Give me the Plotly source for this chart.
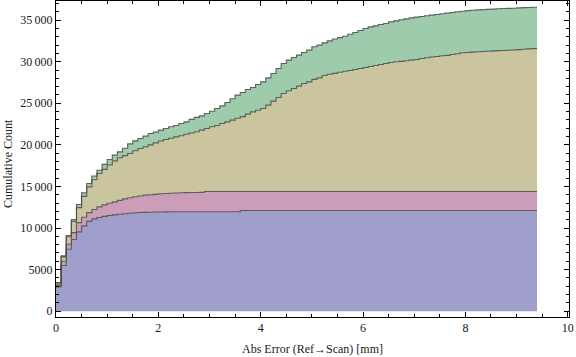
import plotly.graph_objects as go

# ---- data (cumulative stacked tops) ----
bin_width = 0.1
n_bins = 94
bin_left = [round(i * bin_width, 2) for i in range(n_bins)]

blue_top = [
    2900, 5500, 7450, 8620, 9540, 10260, 10800, 11100, 11270, 11400,
    11500, 11580, 11650, 11720, 11780, 11830, 11860, 11880, 11900, 11920,
    11930, 11940, 11950, 11950, 11950, 11950, 11950, 11950, 11950, 11950,
    11950, 11950, 11950, 11950, 11950, 11950, 12100, 12100, 12100, 12100,
    12100, 12100, 12100, 12100, 12100, 12100, 12100, 12100, 12100, 12100,
    12100, 12100, 12100, 12100, 12100, 12100, 12100, 12100, 12100, 12100,
    12100, 12100, 12100, 12100, 12100, 12100, 12100, 12100, 12100, 12100,
    12100, 12100, 12100, 12100, 12100, 12100, 12100, 12100, 12100, 12100,
    12100, 12100, 12100, 12100, 12100, 12100, 12100, 12100, 12100, 12100,
    12100, 12100, 12100, 12100,
]
pink_top = [
    3080, 6000, 8050, 9450, 10650, 11300, 11850, 12220, 12540, 12780,
    12970, 13150, 13330, 13500, 13640, 13760, 13850, 13950, 14000, 14050,
    14120, 14150, 14180, 14220, 14250, 14260, 14270, 14280, 14290, 14400,
    14400, 14400, 14400, 14400, 14400, 14400, 14400, 14400, 14400, 14400,
    14400, 14400, 14400, 14400, 14400, 14400, 14400, 14400, 14400, 14400,
    14400, 14400, 14400, 14400, 14400, 14400, 14400, 14400, 14400, 14400,
    14400, 14400, 14400, 14400, 14400, 14400, 14400, 14400, 14400, 14400,
    14400, 14400, 14400, 14400, 14400, 14400, 14400, 14400, 14400, 14400,
    14400, 14400, 14400, 14400, 14400, 14400, 14400, 14400, 14400, 14400,
    14400, 14400, 14400, 14400,
]
tan_top = [
    3280, 6530, 8950, 10800, 12450, 13800, 14950, 15800, 16550, 17050,
    17580, 18080, 18450, 18700, 18960, 19300, 19560, 19780, 20000, 20240,
    20460, 20640, 20800, 20960, 21100, 21270, 21430, 21570, 21770, 21970,
    22170, 22330, 22570, 22770, 22980, 23200, 23400, 23700, 23970, 24170,
    24380, 24780, 25260, 25700, 26180, 26500, 26780, 27060, 27380, 27580,
    27870, 28060, 28350, 28500, 28600, 28740, 28860, 28950, 29070, 29190,
    29310, 29430, 29550, 29670, 29790, 29910, 29990, 30040, 30110, 30190,
    30270, 30390, 30470, 30570, 30630, 30710, 30760, 30870, 30950, 31070,
    31110, 31150, 31200, 31230, 31260, 31300, 31330, 31350, 31370, 31400,
    31450, 31500, 31540, 31570,
]
green_top = [
    3450, 6650, 9100, 11030, 12830, 14250, 15350, 16250, 16950, 17650,
    18240, 18760, 19160, 19600, 20120, 20480, 20770, 21050, 21370, 21530,
    21770, 21970, 22170, 22330, 22570, 22770, 23060, 23300, 23490, 23780,
    24050, 24380, 24690, 25100, 25550, 25980, 26300, 26660, 26900, 27260,
    27580, 28060, 28580, 29190, 29790, 30190, 30510, 30790, 31110, 31390,
    31790, 31990, 32270, 32510, 32730, 32900, 33070, 33310, 33510, 33750,
    34000, 34190, 34310, 34470, 34590, 34790, 34910, 35040, 35150, 35270,
    35360, 35440, 35520, 35600, 35680, 35760, 35840, 35920, 36000, 36060,
    36140, 36190, 36230, 36260, 36290, 36320, 36360, 36390, 36410, 36430,
    36470, 36500, 36520, 36540,
]

y_tickvals = [0, 5000, 10000, 15000, 20000, 25000, 30000, 35000]
y_ticktext = ["0", "5000", "10\u2009000", "15\u2009000", "20\u2009000",
              "25\u2009000", "30\u2009000", "35\u2009000"]
x_tickvals = [0, 2, 4, 6, 8, 10]
x_ticktext = ["0", "2", "4", "6", "8", "10"]
x_title = "Abs Error (Ref\u2192Scan) [mm]"
y_title = "Cumulative Count"

layers = [
    ("blue", blue_top, "#A09FCC"),
    ("pink", pink_top, "#CC9DB8"),
    ("tan", tan_top, "#CBC59F"),
    ("green", green_top, "#9ECBAB"),
]

# step edges: bin left edges plus final right edge
x_steps = bin_left + [round(n_bins * bin_width, 2)]

fig = go.Figure()
for i, (name, tops, col) in enumerate(layers):
    ys = tops + [tops[-1]]
    fig.add_trace(go.Scatter(
        x=x_steps, y=ys, mode="lines", name=name,
        line=dict(shape="hv", color="rgba(70,75,72,0.85)", width=1.1),
        fill="tozeroy" if i == 0 else "tonexty",
        fillcolor=col, showlegend=False, hoverinfo="skip",
    ))

font_serif = "Liberation Serif"
txt_col = "#1a1a1a"

axis_common = dict(
    showline=True, linecolor="black", linewidth=1, mirror="allticks",
    ticks="inside", ticklen=5, tickcolor="black", tickwidth=1,
    showgrid=False, zeroline=False, automargin=False,
    tickfont=dict(family=font_serif, size=12, color=txt_col),
)

L, R, T, B = 56, 7, 1, 40
W, H = 576, 357
pw, ph = W - L - R, H - T - B

fig.update_layout(
    width=W, height=H,
    margin=dict(l=L, r=R, t=T, b=B),
    paper_bgcolor="white", plot_bgcolor="white",
    font=dict(family=font_serif, size=12, color=txt_col),
    hovermode=False,
    xaxis=dict(
        range=[0, 10.025], tickvals=x_tickvals, ticktext=x_ticktext,
        minor=dict(ticks="inside", dtick=0.5, ticklen=3, tickcolor="black"),
        **axis_common,
    ),
    yaxis=dict(
        range=[-700, 37300], tickvals=y_tickvals, ticktext=y_ticktext,
        minor=dict(ticks="inside", dtick=1000, ticklen=3, tickcolor="black"),
        **axis_common,
    ),
    annotations=[
        dict(text=x_title, xref="paper", yref="paper",
             x=(312 - L) / pw, y=-(349 - (T + ph)) / ph,
             xanchor="center", yanchor="middle", showarrow=False,
             font=dict(family=font_serif, size=12, color=txt_col)),
        dict(text=y_title, xref="paper", yref="paper",
             x=(8 - L) / pw, y=1 - (164 - T) / ph, textangle=-90,
             xanchor="center", yanchor="middle", showarrow=False,
             font=dict(family=font_serif, size=12, color=txt_col)),
    ],
)

fig.write_html(
    "out.html",
    config={"displayModeBar": False, "staticPlot": True},
    post_script="document.body.style.margin='0';document.body.style.padding='0';",
)
